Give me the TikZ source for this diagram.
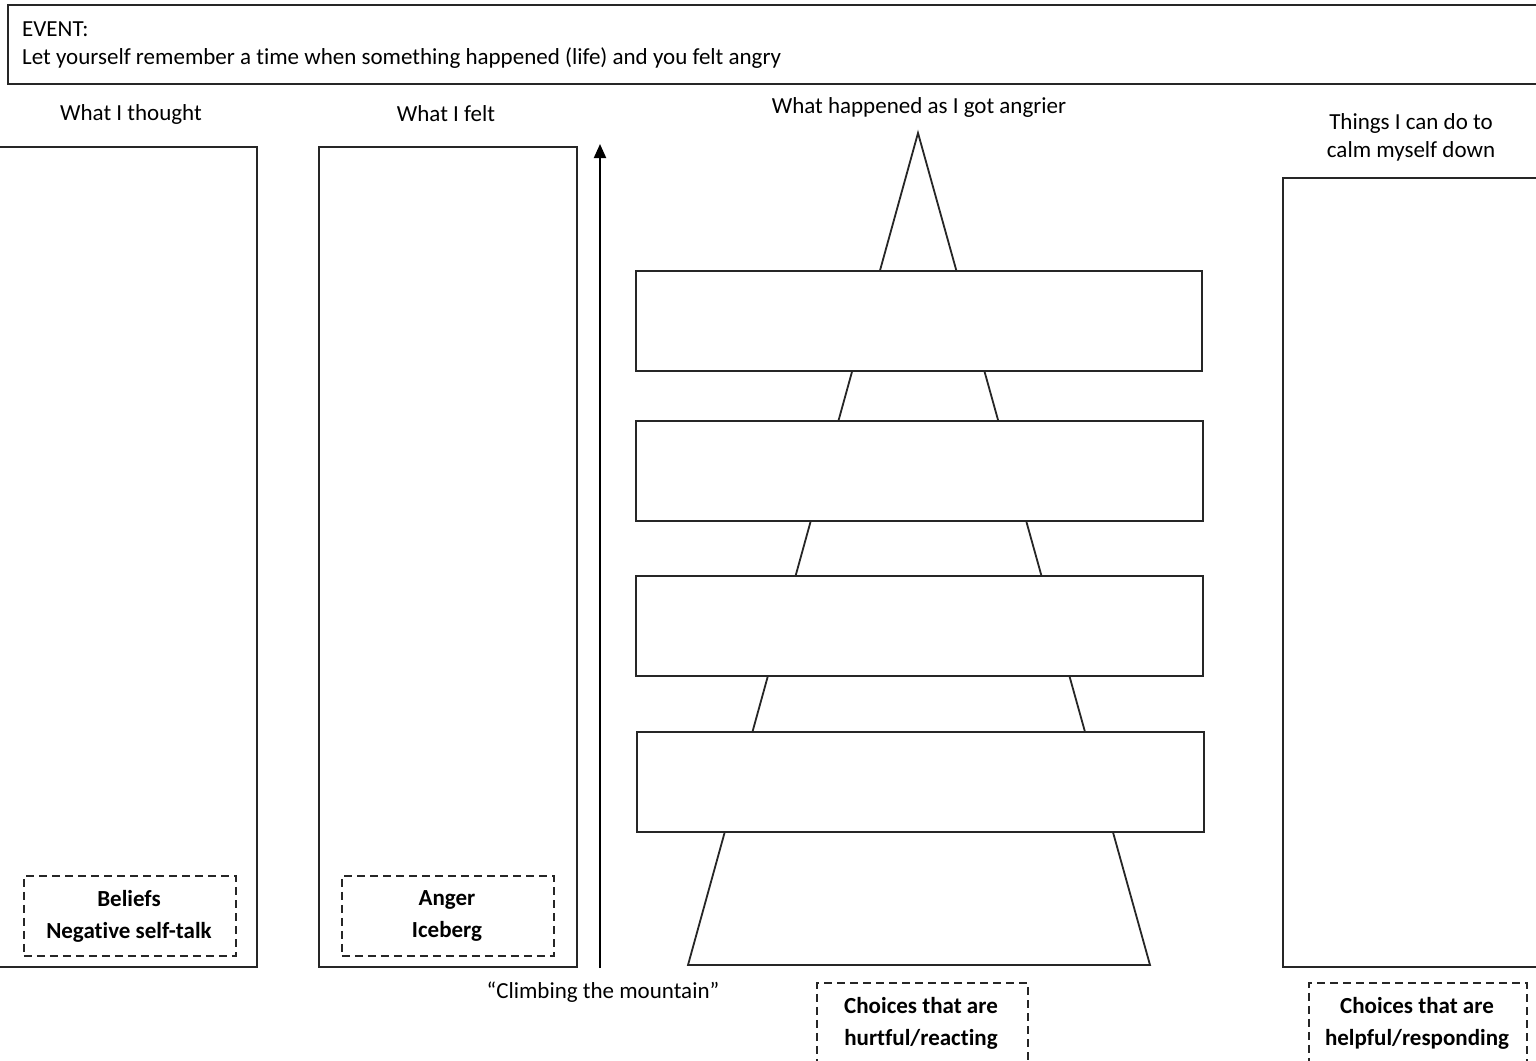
\documentclass[tikz,border=0pt]{standalone}
\usepackage{fontspec}
\setmainfont{Carlito}[Ligatures=NoCommon]
\usetikzlibrary{arrows.meta}
\begin{document}
\begin{tikzpicture}[x=1pt,y=-1pt,
  frame/.style={draw=black!85,line width=1.8pt,fill=white,inner sep=0pt,anchor=north west},
  dbox/.style={draw=black!85,line width=1.8pt,dash pattern=on 8pt off 5pt,inner sep=0pt,anchor=north west},
  lbl/.style={font=\fontsize{23}{29}\selectfont,inner sep=0pt,align=center},
  blbl/.style={font=\fontsize{23}{32}\selectfont\bfseries,inner sep=0pt,align=center}]
\useasboundingbox (0,0) rectangle (1536,1060);
\clip (0,0) rectangle (1536,1060);
\fill[white] (0,0) rectangle (1536,1060);
% event box
\node[frame,minimum width=1540pt,minimum height=79pt] (event) at (7,4) {};
\node[lbl,anchor=west] (evt1) at (22,29) {EVENT:};
\node[lbl,anchor=west] (evt2) at (22,58) {Let yourself remember a time when something happened (life) and you felt angry};
% headings
\node[lbl] (h1) at (131,114) {What I thought};
\node[lbl] (h2) at (446,114) {What I felt};
\node[lbl] (h3) at (919,107) {What happened as I got angrier};
\node[lbl,font=\fontsize{23}{28}\selectfont] (h4) at (1411,137) {Things I can do to\\calm myself down};
% columns
\node[frame,minimum width=258pt,minimum height=820pt] (thought) at (-2,146) {};
\node[frame,minimum width=258pt,minimum height=820pt] (felt) at (318,146) {};
\node[frame,minimum width=270pt,minimum height=789pt] (calm) at (1282,177) {};
% mountain
\draw[draw=black!85,line width=1.8pt,line join=miter] (918,133) -- (1150,965) -- (688,965) -- cycle;
\node[frame,minimum width=566pt,minimum height=100pt] (r1) at (635,270) {};
\node[frame,minimum width=567pt,minimum height=100pt] (r2) at (635,420) {};
\node[frame,minimum width=567pt,minimum height=100pt] (r3) at (635,575) {};
\node[frame,minimum width=567pt,minimum height=100pt] (r4) at (636,731) {};
% arrow
\coordinate (abot) at (600,968);
\coordinate (atop) at (600,144);
\draw[line width=2pt,-{Triangle[length=14pt,width=12pt]}] (abot) -- (atop);
\node[lbl] (climb) at (603,992) {“Climbing the mountain”};
% dashed boxes
\node[dbox,minimum width=212pt,minimum height=80pt] (d1) at (23,875) {};
\node[blbl] (t1) at (129,916) {Beliefs\\Negative self-talk};
\node[dbox,minimum width=212pt,minimum height=80pt] (d2) at (341,875) {};
\node[blbl] (t2) at (447,916) {Anger\\Iceberg};
\node[dbox,minimum width=211pt,minimum height=100pt] (d3) at (816,982) {};
\node[blbl] (t3) at (921,1023) {Choices that are\\hurtful/reacting};
\node[dbox,minimum width=218pt,minimum height=100pt] (d4) at (1308,982) {};
\node[blbl] (t4) at (1417,1023) {Choices that are\\helpful/responding};
\end{tikzpicture}
\end{document}
